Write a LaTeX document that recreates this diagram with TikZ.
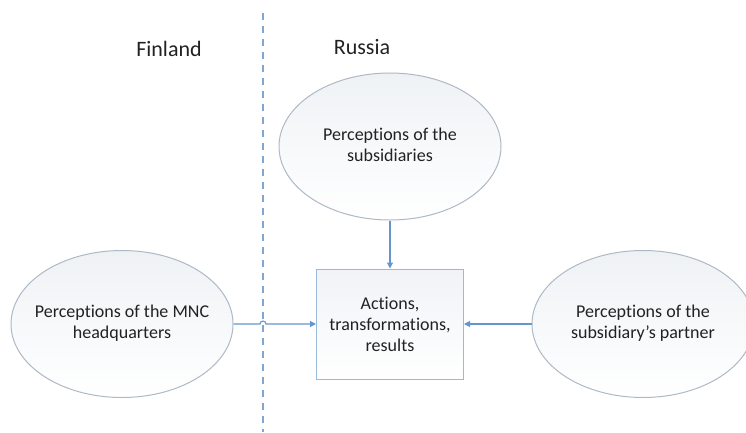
\documentclass[tikz,border=0pt]{standalone}
\usepackage{fontspec}
\setmainfont{Carlito}[Ligatures={TeX,NoCommon}]
\usetikzlibrary{shapes.geometric,arrows.meta}
\definecolor{linkblue}{HTML}{6496CD}
\definecolor{divblue}{HTML}{7FA7D0}
\definecolor{ellline}{HTML}{AEB9C6}
\definecolor{elltop}{HTML}{EFF2F5}
\definecolor{boxline}{HTML}{9BBAD9}
\definecolor{boxtop}{HTML}{F0F3F7}
\definecolor{txt}{HTML}{222222}
\newcommand{\ctext}[1]{\makebox[0pt]{\begin{tabular}{@{}c@{}}#1\end{tabular}}}

\begin{document}
\begin{tikzpicture}[x=1pt, y=-1pt,
	percep/.style={ellipse, draw=ellline, line width=1pt, top color=elltop, bottom color=white, minimum width=222pt, minimum height=147pt, inner sep=0pt, text=txt, font=\fontsize{18}{21}\selectfont},
	result/.style={rectangle, draw=boxline, line width=1pt, top color=boxtop, bottom color=white, minimum width=147pt, minimum height=110pt, align=center, text=txt, font=\fontsize{18}{21}\selectfont},
	country/.style={text=txt, font=\fontsize{22}{26}\selectfont},
	link/.style={draw=linkblue, line width=1.1pt, -{Triangle[length=6pt,width=6pt]}}]
	\useasboundingbox (0,0) rectangle (746,432);
	% border line
	\draw[divblue, line width=1.3pt, dash pattern=on 7pt off 6pt] (263,13) -- (263,432);
	\draw (169,49) node[country](fin) {Finland};
	\draw (362,47) node[country](rus) {Russia};
	\draw (390,146.5) node[percep](subs) {\ctext{Perceptions of the\\subsidiaries}};
	\draw (122,324) node[percep](hq) {\ctext{Perceptions of the MNC\\headquarters}};
	\draw (643,324) node[percep](part) {\ctext{Perceptions of the\\subsidiary’s partner}};
	\draw (390,324) node[result](act) {Actions,\\transformations,\\results};
	\draw[link] (subs) -- (act);
	\draw[link] (part) -- (act);
	\draw[link] (hq.east) -- (260,324) arc[start angle=180, end angle=0, radius=3pt] -- (act.west);
\end{tikzpicture}
\end{document}
